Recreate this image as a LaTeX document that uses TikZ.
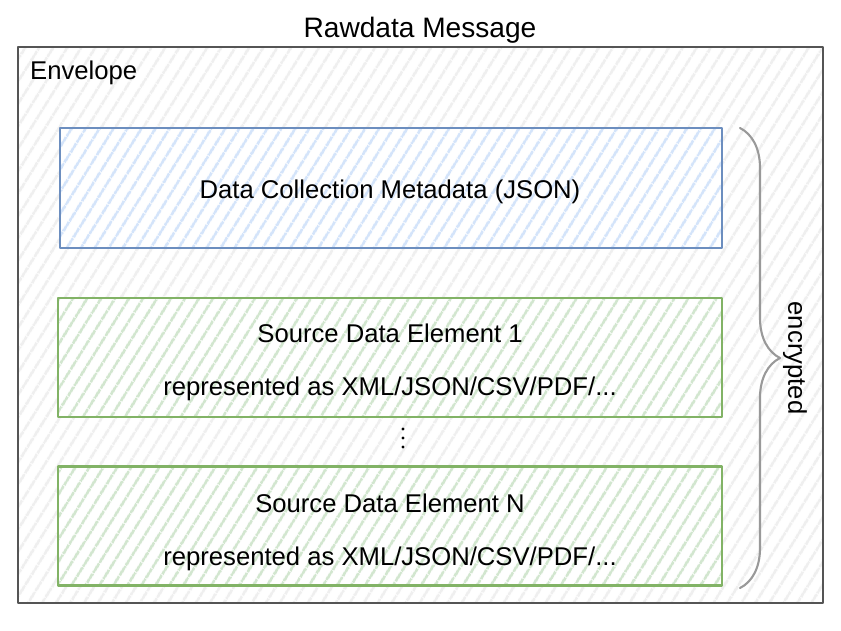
\documentclass[tikz,border=0pt]{standalone}
\usepackage{fontspec}
\setmainfont{Liberation Sans}
\usetikzlibrary{patterns.meta,decorations.pathreplacing}
\definecolor{envline}{HTML}{555555}
\definecolor{envhatch}{HTML}{EFEFEF}
\definecolor{metaline}{HTML}{6C8EBF}
\definecolor{metahatch}{HTML}{D4E4FA}
\definecolor{srcline}{HTML}{82B366}
\definecolor{srchatch}{HTML}{D2E6CF}
\definecolor{braceline}{HTML}{999999}
\tikzset{
  hatched/.style={preaction={fill=white},preaction={pattern={Lines[angle=58,distance=6.5pt,line width=1.6pt]},pattern color=#1}},
  envbox/.style={draw=envline,line width=1.3pt,hatched=envhatch,minimum width=16.1cm,minimum height=11.12cm},
  metabox/.style={draw=metaline,line width=1.6pt,hatched=metahatch,minimum width=13.24cm,minimum height=2.4cm},
  srcbox/.style={draw=srcline,line width=1.6pt,hatched=srchatch,minimum width=13.28cm,minimum height=2.38cm}
}
\begin{document}
\begin{tikzpicture}[x=0.02cm,y=-0.02cm,font=\fontsize{14.6}{17}\selectfont,line join=round,line cap=round]
	\useasboundingbox (0,0) rectangle (841,630);
	\node[envbox] (env) at (420.5,325) {};
	\node (title) at (420,30) {\fontsize{16}{19}\selectfont Rawdata Message};
	\node[anchor=west] (envlabel) at (24,73) {Envelope};
	\node[metabox] (meta) at (391,188) {};
	\node (metatext) at (390,192) {Data Collection Metadata (JSON)};
	\node[srcbox] (src1) at (390,357.5) {};
	\node (src1name) at (390,333) {Source Data Element 1};
	\node (src1fmt) at (390,389) {represented as XML/JSON/CSV/PDF/...};
	\foreach \dy in {429,438,447}
		\fill (403,\dy) circle (1.6);
	\node[srcbox] (srcn) at (390,526) {};
	\node (srcnname) at (390,503) {Source Data Element N};
	\node (srcnfmt) at (390,559) {represented as XML/JSON/CSV/PDF/...};
	\coordinate (bracetop) at (740,128);
	\coordinate (bracebot) at (740,588);
	\draw[braceline,line width=1.2pt,decorate,decoration={brace,amplitude=0.8cm}] (bracetop) -- (bracebot);
	\node[rotate=-90] (enc) at (795,358) {encrypted};
\end{tikzpicture}
\end{document}
